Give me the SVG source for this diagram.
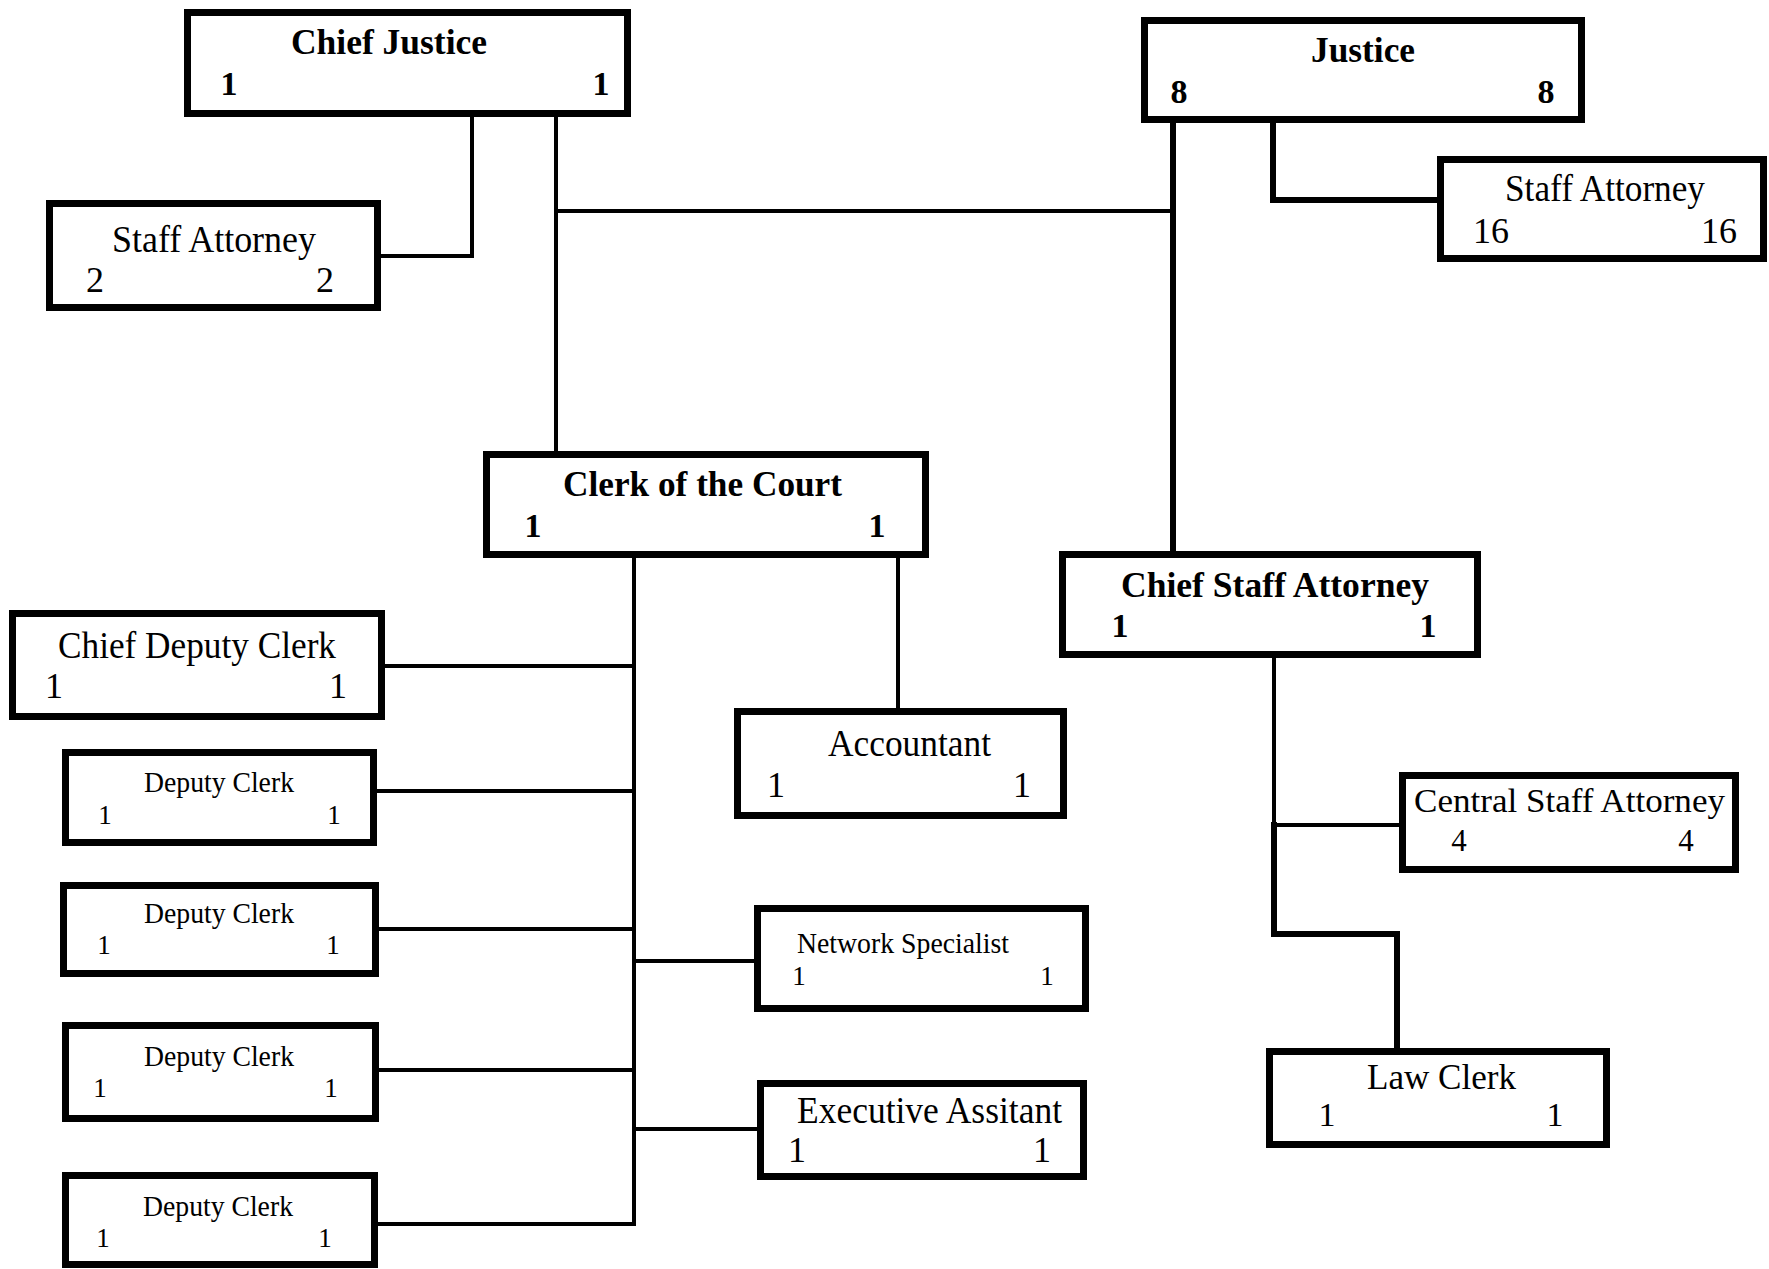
<svg xmlns="http://www.w3.org/2000/svg" width="1769" height="1269" viewBox="0 0 1769 1269">
<style>
  .box { fill: #fff; stroke: #000; stroke-width: 7; }
  .c { fill: none; stroke: #000; stroke-width: 4; stroke-linecap: square; }
  .ct { fill: none; stroke: #000; stroke-width: 6; stroke-linecap: square; stroke-linejoin: miter; }
  text { font-family: "Liberation Serif", "Times New Roman", serif; fill: #000; }
  .b { font-weight: bold; font-size: 36px; }
  .bn { font-weight: bold; font-size: 34px; text-anchor: middle; }
  .l { font-size: 38px; }
  .ln { font-size: 36px; text-anchor: middle; }
  .s { font-size: 29px; }
  .sn { font-size: 27px; text-anchor: middle; }
</style>
<rect width="1769" height="1269" fill="#fff"/>
<g id="connectors">
  <path class="c" d="M472 114 V256 H381"/>
  <path class="c" d="M556 114 V451"/>
  <path class="c" d="M556 211 H1173"/>
  <path class="ct" d="M1173 121 V551"/>
  <path class="ct" d="M1273 121 V200 H1437"/>
  <path class="c" d="M634 557 V1224"/>
  <path class="c" d="M898 557 V708"/>
  <path class="c" d="M384 666 H634"/>
  <path class="c" d="M376 791 H634"/>
  <path class="c" d="M378 929 H634"/>
  <path class="c" d="M378 1070 H634"/>
  <path class="c" d="M377 1224 H634"/>
  <path class="c" d="M634 961 H754"/>
  <path class="c" d="M634 1129 H757"/>
  <path class="c" d="M1274 656 V825"/>
  <path class="ct" d="M1274 825 V934 H1397 V1048"/>
  <path class="c" d="M1274 825 H1399"/>
</g>
<g id="chief-justice">
  <rect class="box" x="187.5" y="12.5" width="440" height="101"/>
  <text class="b" x="291" y="54" textLength="196" lengthAdjust="spacingAndGlyphs">Chief Justice</text>
  <text class="bn" x="229" y="95">1</text>
  <text class="bn" x="601" y="95">1</text>
</g>
<g id="staff-attorney-left">
  <rect class="box" x="49.5" y="203.5" width="328" height="104"/>
  <text class="l" x="112" y="252" textLength="204" lengthAdjust="spacingAndGlyphs">Staff Attorney</text>
  <text class="ln" x="95" y="292">2</text>
  <text class="ln" x="325" y="292">2</text>
</g>
<g id="justice">
  <rect class="box" x="1144.5" y="20.5" width="437" height="99"/>
  <text class="b" x="1311" y="62" textLength="104" lengthAdjust="spacingAndGlyphs">Justice</text>
  <text class="bn" x="1179" y="103">8</text>
  <text class="bn" x="1546" y="103">8</text>
</g>
<g id="staff-attorney-right">
  <rect class="box" x="1440.5" y="159.5" width="323" height="99"/>
  <text class="l" x="1505" y="201" textLength="200" lengthAdjust="spacingAndGlyphs">Staff Attorney</text>
  <text class="ln" x="1491" y="243">16</text>
  <text class="ln" x="1719" y="243">16</text>
</g>
<g id="clerk-of-the-court">
  <rect class="box" x="486.5" y="454.5" width="439" height="100"/>
  <text class="b" x="563" y="496" textLength="279" lengthAdjust="spacingAndGlyphs">Clerk of the Court</text>
  <text class="bn" x="533" y="537">1</text>
  <text class="bn" x="877" y="537">1</text>
</g>
<g id="chief-staff-attorney">
  <rect class="box" x="1062.5" y="554.5" width="415" height="100"/>
  <text class="b" x="1121" y="597" textLength="308" lengthAdjust="spacingAndGlyphs">Chief Staff Attorney</text>
  <text class="bn" x="1120" y="637">1</text>
  <text class="bn" x="1428" y="637">1</text>
</g>
<g id="chief-deputy-clerk">
  <rect class="box" x="12.5" y="613.5" width="369" height="103"/>
  <text class="l" x="58" y="658" textLength="278" lengthAdjust="spacingAndGlyphs">Chief Deputy Clerk</text>
  <text class="ln" x="54" y="698">1</text>
  <text class="ln" x="338" y="698">1</text>
</g>
<g id="accountant">
  <rect class="box" x="737.5" y="711.5" width="326" height="104"/>
  <text class="l" x="828" y="756" textLength="163" lengthAdjust="spacingAndGlyphs">Accountant</text>
  <text class="ln" x="776" y="797">1</text>
  <text class="ln" x="1022" y="797">1</text>
</g>
<g id="deputy-clerk-1">
  <rect class="box" x="65.5" y="752.5" width="308" height="90"/>
  <text class="s" x="144" y="792" textLength="150" lengthAdjust="spacingAndGlyphs">Deputy Clerk</text>
  <text class="sn" x="105" y="824">1</text>
  <text class="sn" x="334" y="824">1</text>
</g>
<g id="deputy-clerk-2">
  <rect class="box" x="63.5" y="885.5" width="312" height="88"/>
  <text class="s" x="144" y="923" textLength="150" lengthAdjust="spacingAndGlyphs">Deputy Clerk</text>
  <text class="sn" x="104" y="954">1</text>
  <text class="sn" x="333" y="954">1</text>
</g>
<g id="deputy-clerk-3">
  <rect class="box" x="65.5" y="1025.5" width="310" height="93"/>
  <text class="s" x="144" y="1066" textLength="150" lengthAdjust="spacingAndGlyphs">Deputy Clerk</text>
  <text class="sn" x="100" y="1097">1</text>
  <text class="sn" x="331" y="1097">1</text>
</g>
<g id="deputy-clerk-4">
  <rect class="box" x="65.5" y="1175.5" width="309" height="89"/>
  <text class="s" x="143" y="1216" textLength="150" lengthAdjust="spacingAndGlyphs">Deputy Clerk</text>
  <text class="sn" x="103" y="1247">1</text>
  <text class="sn" x="325" y="1247">1</text>
</g>
<g id="network-specialist">
  <rect class="box" x="757.5" y="908.5" width="328" height="100"/>
  <text class="s" x="797" y="953" textLength="212" lengthAdjust="spacingAndGlyphs">Network Specialist</text>
  <text class="sn" x="799" y="985">1</text>
  <text class="sn" x="1047" y="985">1</text>
</g>
<g id="executive-assitant">
  <rect class="box" x="760.5" y="1083.5" width="323" height="93"/>
  <text class="l" x="797" y="1123" textLength="265" lengthAdjust="spacingAndGlyphs">Executive Assitant</text>
  <text class="ln" x="797" y="1162">1</text>
  <text class="ln" x="1042" y="1162">1</text>
</g>
<g id="central-staff-attorney">
  <rect class="box" x="1402.5" y="775.5" width="333" height="94"/>
  <text class="l" x="1414" y="812" textLength="311" lengthAdjust="spacingAndGlyphs" style="font-size:34px">Central Staff Attorney</text>
  <text class="ln" x="1459" y="851" style="font-size:31px">4</text>
  <text class="ln" x="1686" y="851" style="font-size:31px">4</text>
</g>
<g id="law-clerk">
  <rect class="box" x="1269.5" y="1051.5" width="337" height="93"/>
  <text class="l" x="1367" y="1089" textLength="149" lengthAdjust="spacingAndGlyphs" style="font-size:36px">Law Clerk</text>
  <text class="ln" x="1327" y="1126" style="font-size:34px">1</text>
  <text class="ln" x="1555" y="1126" style="font-size:34px">1</text>
</g>
</svg>
